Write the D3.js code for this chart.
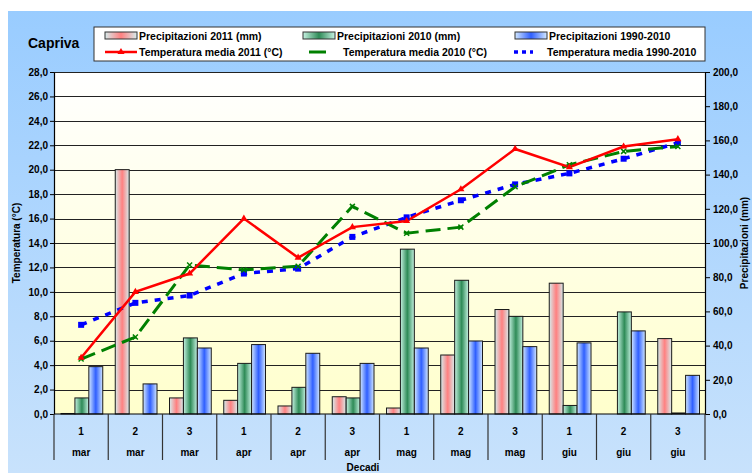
<!DOCTYPE html>
<meta charset="utf-8">
<head>
  <title>Capriva</title>
</head>

<style>
  body {
    margin: 0;
    font-family: "Liberation Sans", Arial, sans-serif;
    background: #fff;
  }
  svg text {
    font-weight: bold;
    fill: #000;
  }
</style>

<body>
<svg id="chart" width="752" height="473"></svg>

<script src="https://cdnjs.cloudflare.com/ajax/libs/d3/7.8.5/d3.min.js"></script>
<script>
  var decadi = ["1", "2", "3", "1", "2", "3", "1", "2", "3", "1", "2", "3"];
  var mesi = ["mar", "mar", "mar", "apr", "apr", "apr", "mag", "mag", "mag", "giu", "giu", "giu"];

  var prec2011 = [0.3, 142.9, 9.4, 8.0, 4.7, 10.1, 3.5, 34.5, 61.1, 76.5, 0, 44.1];
  var prec2010 = [9.4, 0, 44.5, 29.6, 15.6, 9.4, 96.4, 78.2, 57.1, 5.0, 59.7, 0.6];
  var prec9010 = [27.7, 17.6, 38.6, 40.6, 35.5, 29.6, 38.6, 42.7, 39.4, 41.6, 48.6, 22.6];

  var temp2011 = [4.6, 10.0, 11.5, 16.0, 12.8, 15.3, 15.8, 18.4, 21.7, 20.2, 21.9, 22.5];
  var temp2010 = [4.5, 6.3, 12.2, 11.8, 12.1, 17.0, 14.8, 15.3, 18.6, 20.4, 21.5, 21.9];
  var temp9010 = [7.3, 9.1, 9.7, 11.5, 11.9, 14.5, 16.1, 17.5, 18.8, 19.7, 20.9, 22.2];

  var tempTicks = d3.range(0, 29, 2);
  var precTicks = d3.range(0, 201, 20);

  var fmt = function(d) { return d.toFixed(1).replace(".", ","); };

  var svg = d3.select("#chart");
  var defs = svg.append("defs");

  // background gradients
  var bg = defs.append("linearGradient").attr("id", "bg")
    .attr("x1", 0).attr("y1", 0).attr("x2", 0).attr("y2", 1);
  bg.append("stop").attr("offset", "0%").attr("stop-color", "#99ccff");
  bg.append("stop").attr("offset", "100%").attr("stop-color", "#c8e2fc");

  var plotBg = defs.append("linearGradient").attr("id", "plotbg")
    .attr("x1", 0).attr("y1", 0).attr("x2", 0).attr("y2", 1);
  plotBg.append("stop").attr("offset", "0%").attr("stop-color", "#ffffff");
  plotBg.append("stop").attr("offset", "100%").attr("stop-color", "#ffffcc");

  function barGrad(id, edge, mid) {
    var g = defs.append("linearGradient").attr("id", id)
      .attr("x1", 0).attr("y1", 0).attr("x2", 1).attr("y2", 0);
    g.append("stop").attr("offset", "0%").attr("stop-color", edge);
    g.append("stop").attr("offset", "50%").attr("stop-color", mid);
    g.append("stop").attr("offset", "100%").attr("stop-color", edge);
  }
  barGrad("g2011", "#d6ecec", "#ff8080");
  barGrad("g2010", "#c6f2e2", "#2e8b57");
  barGrad("g9010", "#d2e8ff", "#2f5fff");

  svg.append("rect")
    .attr("x", 8).attr("y", 11)
    .attr("width", 744).attr("height", 462)
    .attr("fill", "url(#bg)");

  var plotLeft = 54, plotRight = 705, plotTop = 72, plotBottom = 414;

  var x0 = d3.scaleBand()
    .domain(d3.range(decadi.length))
    .range([plotLeft, plotRight]);

  var x1 = d3.scaleBand()
    .domain(["p2011", "p2010", "p9010"])
    .range([7, x0.bandwidth() - 5.5]);

  var yT = d3.scaleLinear().domain([0, 28]).range([plotBottom, plotTop]);
  var yP = d3.scaleLinear().domain([0, 200]).range([plotBottom, plotTop]);

  svg.append("rect")
    .attr("x", plotLeft).attr("y", plotTop)
    .attr("width", plotRight - plotLeft).attr("height", plotBottom - plotTop)
    .attr("fill", "url(#plotbg)");

  // gridlines
  svg.append("g")
    .selectAll("line")
    .data(tempTicks.slice(1))
    .enter()
    .append("line")
    .attr("x1", plotLeft).attr("x2", plotRight)
    .attr("y1", function(d) { return Math.round(yT(d)) + 0.5; })
    .attr("y2", function(d) { return Math.round(yT(d)) + 0.5; })
    .attr("stroke", "#222")
    .attr("stroke-width", 1);

  // bars
  var series = [
    { key: "p2011", values: prec2011, fill: "url(#g2011)" },
    { key: "p2010", values: prec2010, fill: "url(#g2010)" },
    { key: "p9010", values: prec9010, fill: "url(#g9010)" }
  ];

  series.forEach(function(s) {
    svg.append("g")
      .selectAll("rect")
      .data(s.values)
      .enter()
      .append("rect")
      .attr("x", function(d, i) { return x0(i) + x1(s.key); })
      .attr("y", function(d) { return yP(d); })
      .attr("width", x1.bandwidth())
      .attr("height", function(d) { return plotBottom - yP(d); })
      .attr("fill", s.fill)
      .attr("stroke", "#1a1a1a")
      .attr("stroke-width", 1)
      .style("display", function(d) { return d > 0 ? null : "none"; });
  });

  // lines
  var cx = function(i) { return x0(i) + x0.bandwidth() / 2; };
  var line = d3.line()
    .x(function(d, i) { return cx(i); })
    .y(function(d) { return yT(d); });

  svg.append("path")
    .datum(temp9010)
    .attr("d", line)
    .attr("fill", "none")
    .attr("stroke", "#0000ff")
    .attr("stroke-width", 3.5)
    .attr("stroke-dasharray", "6,7");

  svg.append("path")
    .datum(temp2010)
    .attr("d", line)
    .attr("fill", "none")
    .attr("stroke", "#008000")
    .attr("stroke-width", 3)
    .attr("stroke-dasharray", "15,7");

  svg.append("path")
    .datum(temp2011)
    .attr("d", line)
    .attr("fill", "none")
    .attr("stroke", "#ff0000")
    .attr("stroke-width", 2.5);

  // markers
  svg.append("g")
    .selectAll("rect")
    .data(temp9010)
    .enter()
    .append("rect")
    .attr("x", function(d, i) { return cx(i) - 3; })
    .attr("y", function(d) { return yT(d) - 3; })
    .attr("width", 6).attr("height", 6)
    .attr("fill", "#0000ff");

  svg.append("g")
    .selectAll("path")
    .data(temp2010)
    .enter()
    .append("path")
    .attr("transform", function(d, i) { return "translate(" + cx(i) + "," + yT(d) + ")"; })
    .attr("d", "M-2.5,-2.5L2.5,2.5M-2.5,2.5L2.5,-2.5")
    .attr("stroke", "#008000")
    .attr("stroke-width", 1.5);

  svg.append("g")
    .selectAll("path")
    .data(temp2011)
    .enter()
    .append("path")
    .attr("transform", function(d, i) { return "translate(" + cx(i) + "," + yT(d) + ")"; })
    .attr("d", d3.symbol().type(d3.symbolTriangle).size(22))
    .attr("fill", "#ff0000");

  // axes
  var leftAxis = svg.append("g")
    .attr("transform", "translate(" + plotLeft + ",0)")
    .call(d3.axisLeft(yT).tickValues(tempTicks).tickFormat(fmt).tickSize(4).tickSizeOuter(0));

  var rightAxis = svg.append("g")
    .attr("transform", "translate(" + plotRight + ",0)")
    .call(d3.axisRight(yP).tickValues(precTicks).tickFormat(fmt).tickSize(5).tickSizeOuter(0));

  [leftAxis, rightAxis].forEach(function(a) {
    a.select(".domain").attr("stroke", "#000").attr("stroke-width", 1.2);
    a.selectAll(".tick line").attr("stroke", "#000");
    a.selectAll("text")
      .style("font-size", "10px")
      .style("font-weight", "bold")
      .attr("fill", "#000");
  });
  leftAxis.selectAll("text").attr("x", -6);
  rightAxis.selectAll("text").attr("x", 8);

  svg.append("line")
    .attr("x1", plotLeft).attr("x2", plotRight)
    .attr("y1", plotBottom).attr("y2", plotBottom)
    .attr("stroke", "#000").attr("stroke-width", 1.2);

  // category separators and labels
  svg.append("g")
    .selectAll("line")
    .data(d3.range(decadi.length + 1))
    .enter()
    .append("line")
    .attr("x1", function(d) { return plotLeft + d * x0.step(); })
    .attr("x2", function(d) { return plotLeft + d * x0.step(); })
    .attr("y1", plotBottom).attr("y2", 460)
    .attr("stroke", "#333").attr("stroke-width", 1.2);

  svg.append("g")
    .selectAll("text")
    .data(decadi)
    .enter()
    .append("text")
    .attr("x", function(d, i) { return cx(i); })
    .attr("y", 435)
    .attr("text-anchor", "middle")
    .style("font-size", "10px")
    .text(function(d) { return d; });

  svg.append("g")
    .selectAll("text")
    .data(mesi)
    .enter()
    .append("text")
    .attr("x", function(d, i) { return cx(i); })
    .attr("y", 456)
    .attr("text-anchor", "middle")
    .style("font-size", "10px")
    .text(function(d) { return d; });

  svg.append("text")
    .attr("x", 363).attr("y", 471)
    .attr("text-anchor", "middle")
    .style("font-size", "10px")
    .text("Decadi");

  svg.append("text")
    .attr("transform", "translate(20," + ((plotTop + plotBottom) / 2) + ") rotate(-90)")
    .attr("text-anchor", "middle")
    .style("font-size", "10px")
    .text("Temperatura (°C)");

  svg.append("text")
    .attr("transform", "translate(748," + ((plotTop + plotBottom) / 2) + ") rotate(-90)")
    .attr("text-anchor", "middle")
    .style("font-size", "10px")
    .text("Precipitazioni (mm)");

  svg.append("text")
    .attr("x", 28).attr("y", 48)
    .style("font-size", "14px")
    .text("Capriva");

  // legend
  var legend = svg.append("g");
  legend.append("rect")
    .attr("x", 94).attr("y", 27)
    .attr("width", 611).attr("height", 34)
    .attr("fill", "#fff")
    .attr("stroke", "#333").attr("stroke-width", 1);

  var legBars = [
    { x: 105, label: "Precipitazioni 2011 (mm)", fill: "url(#g2011)" },
    { x: 303, label: "Precipitazioni 2010 (mm)", fill: "url(#g2010)" },
    { x: 515, label: "Precipitazioni 1990-2010", fill: "url(#g9010)" }
  ];
  legBars.forEach(function(d) {
    legend.append("rect")
      .attr("x", d.x).attr("y", 32)
      .attr("width", 32).attr("height", 7)
      .attr("fill", d.fill)
      .attr("stroke", "#333").attr("stroke-width", 1);
    legend.append("text")
      .attr("x", d.x + 34).attr("y", 39.5)
      .style("font-size", "10.5px")
      .text(d.label);
  });

  legend.append("line")
    .attr("x1", 105).attr("x2", 137).attr("y1", 52).attr("y2", 52)
    .attr("stroke", "#ff0000").attr("stroke-width", 2.5);
  legend.append("path")
    .attr("transform", "translate(121,52)")
    .attr("d", d3.symbol().type(d3.symbolTriangle).size(22))
    .attr("fill", "#ff0000");
  legend.append("text")
    .attr("x", 139).attr("y", 56)
    .style("font-size", "10.5px")
    .text("Temperatura media 2011 (°C)");

  legend.append("line")
    .attr("x1", 309).attr("x2", 326).attr("y1", 52).attr("y2", 52)
    .attr("stroke", "#008000").attr("stroke-width", 3);
  legend.append("text")
    .attr("x", 343).attr("y", 56)
    .style("font-size", "10.5px")
    .text("Temperatura media 2010 (°C)");

  legend.append("line")
    .attr("x1", 514).attr("x2", 533).attr("y1", 52).attr("y2", 52)
    .attr("stroke", "#0000ff").attr("stroke-width", 3.5)
    .attr("stroke-dasharray", "4,4");
  legend.append("text")
    .attr("x", 547).attr("y", 56)
    .style("font-size", "10.5px")
    .text("Temperatura media 1990-2010");
</script>
</body>
</html>
